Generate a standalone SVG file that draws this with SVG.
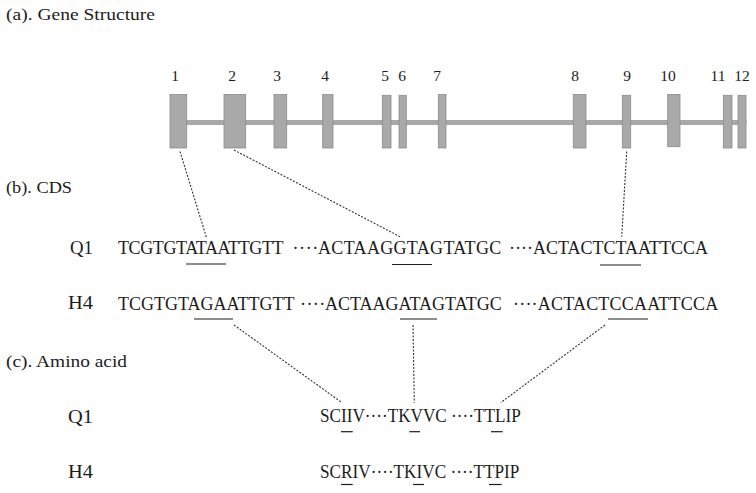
<svg xmlns="http://www.w3.org/2000/svg" width="756" height="493" viewBox="0 0 756 493">
<style>
text{font-family:"Liberation Serif","DejaVu Serif",serif;fill:#1c1c1c}
.h{font-size:17.5px}
.n{font-size:15.5px;text-anchor:middle}
.s{font-size:18px}
.exon{fill:#a9a9a9;stroke:#8c8c8c;stroke-width:0.8}
.ul{stroke:#1c1c1c;stroke-width:1.2}
.dl{stroke:#333;stroke-width:1.1;stroke-dasharray:2 1.5;fill:none}
</style>
<rect width="756" height="493" fill="#fff"/>
<g id="labels">
<text class="h" x="6" y="20" textLength="149" lengthAdjust="spacingAndGlyphs">(a). Gene Structure</text>
<text class="h" x="6" y="193" textLength="66" lengthAdjust="spacingAndGlyphs">(b). CDS</text>
<text class="h" x="6" y="367" textLength="121" lengthAdjust="spacingAndGlyphs">(c). Amino acid</text>
</g>
<g id="gene">
<rect x="186" y="120.5" width="560" height="4" fill="#a8a8a8" stroke="#8c8c8c" stroke-width="0.6"/>
<rect class="exon" x="170" y="94.5" width="16.7" height="53.5"/>
<rect class="exon" x="224" y="94.5" width="21.7" height="53.5"/>
<rect class="exon" x="274" y="94.5" width="12.7" height="53.5"/>
<rect class="exon" x="322.7" y="94.5" width="10.3" height="53.5"/>
<rect class="exon" x="382.3" y="95.3" width="8.7" height="52.7"/>
<rect class="exon" x="399" y="95.3" width="7.3" height="52.7"/>
<rect class="exon" x="438.3" y="94.5" width="7.7" height="53.5"/>
<rect class="exon" x="573.3" y="94.5" width="12.7" height="53.5"/>
<rect class="exon" x="622.3" y="95.3" width="8.4" height="52.7"/>
<rect class="exon" x="667.7" y="94.5" width="12.3" height="52.2"/>
<rect class="exon" x="723.3" y="95.3" width="8.7" height="52.7"/>
<rect class="exon" x="738" y="95.3" width="8" height="52.7"/>
<text class="n" x="175" y="81">1</text>
<text class="n" x="232" y="81">2</text>
<text class="n" x="277" y="81">3</text>
<text class="n" x="325" y="81">4</text>
<text class="n" x="385" y="81">5</text>
<text class="n" x="402" y="81">6</text>
<text class="n" x="437" y="81">7</text>
<text class="n" x="575" y="81">8</text>
<text class="n" x="627" y="81">9</text>
<text class="n" x="668" y="81">10</text>
<text class="n" x="718" y="81">11</text>
<text class="n" x="742" y="81">12</text>
</g>
<g id="cds-q1">
<text class="s" x="70" y="254" textLength="23" lengthAdjust="spacingAndGlyphs">Q1</text>
<text class="s" y="253.5"><tspan x="118" letter-spacing="-0.4">TCGTGTATAATTGTT</tspan><tspan x="292.5" letter-spacing="0.6">····</tspan><tspan x="318" letter-spacing="0.33">ACTAAGGTAGTATGC</tspan><tspan x="509">····ACTACTCTAATTCCA</tspan></text>
<line class="ul" x1="186" y1="264" x2="226" y2="264"/>
<line class="ul" x1="392" y1="264.5" x2="432" y2="264.5"/>
<line class="ul" x1="600" y1="265" x2="641" y2="265"/>
</g>
<g id="cds-h4">
<text class="s" x="68" y="309" textLength="25" lengthAdjust="spacingAndGlyphs">H4</text>
<text class="s" y="309.5"><tspan x="118">TCGTGTAGAATTGTT</tspan><tspan x="300" letter-spacing="0.4">····</tspan><tspan x="325">ACTAAGATAGTATGC</tspan><tspan x="513" letter-spacing="0.2">····ACTACTCCAATTCCA</tspan></text>
<line class="ul" x1="194" y1="319" x2="233" y2="319"/>
<line class="ul" x1="400" y1="319" x2="437" y2="319"/>
<line class="ul" x1="608" y1="319" x2="648" y2="319"/>
</g>
<g id="aa-q1">
<text class="s" x="68" y="422.5" textLength="25" lengthAdjust="spacingAndGlyphs">Q1</text>
<text x="320" y="421.7" style="font-size:18.2px" textLength="200.7" lengthAdjust="spacingAndGlyphs">SCIIV····TKVVC ····TTLIP</text>
<line class="ul" x1="341" y1="431.7" x2="352.7" y2="431.7"/>
<line class="ul" x1="409.3" y1="431.7" x2="420" y2="431.7"/>
<line class="ul" x1="491" y1="431.7" x2="502.7" y2="431.7"/>
</g>
<g id="aa-h4">
<text class="s" x="68" y="478" textLength="25" lengthAdjust="spacingAndGlyphs">H4</text>
<text x="320" y="477.7" style="font-size:18.2px" textLength="199.3" lengthAdjust="spacingAndGlyphs">SCRIV····TKIVC ····TTPIP</text>
<line class="ul" x1="341" y1="484.5" x2="352.7" y2="484.5"/>
<line class="ul" x1="413" y1="484.5" x2="424" y2="484.5"/>
<line class="ul" x1="489" y1="484.5" x2="501.7" y2="484.5"/>
</g>
<g id="connectors">
<line class="dl" x1="180" y1="151.5" x2="206.7" y2="238.3"/>
<line class="dl" x1="234" y1="150" x2="400" y2="236.7"/>
<line class="dl" x1="626.7" y1="151.5" x2="621.7" y2="236.7"/>
<line class="dl" x1="234" y1="325" x2="342" y2="402.7"/>
<line class="dl" x1="413" y1="325" x2="414.3" y2="402.7"/>
<line class="dl" x1="605" y1="325" x2="500.7" y2="402.7"/>
</g>
</svg>
